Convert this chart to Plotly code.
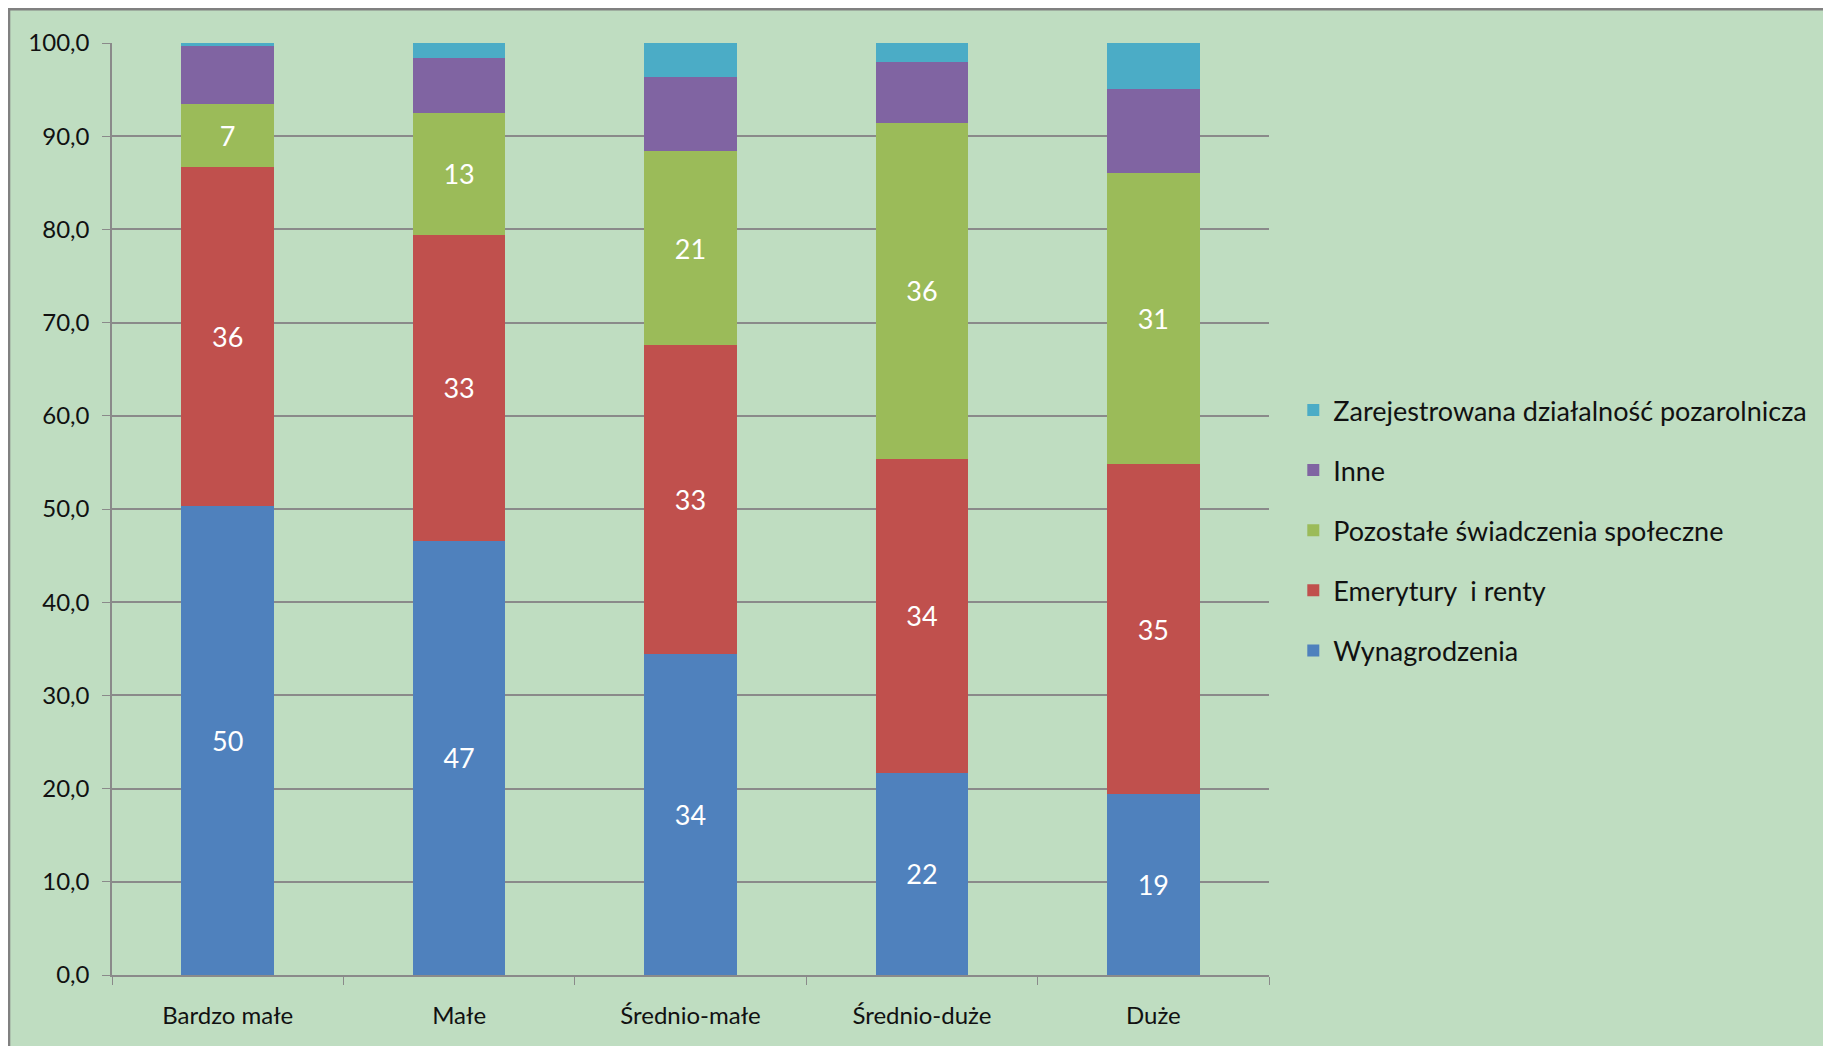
"""Stacked 100% bar chart: income sources by farm size group."""

import plotly.graph_objects as go

# Category labels (farm size groups)
categories = ["Bardzo małe", "Małe", "Średnio-małe", "Średnio-duże", "Duże"]

# Series values (share in %)
wynagrodzenia = [50.3, 46.6, 34.4, 21.7, 19.4]
emerytury = [36.4, 32.8, 33.2, 33.7, 35.4]
pozostale = [6.8, 13.1, 20.8, 36.0, 31.2]
inne = [6.2, 5.9, 8.0, 6.6, 9.1]
dzialalnosc = [0.3, 1.6, 3.6, 2.0, 4.9]

y_ticks = [0, 10, 20, 30, 40, 50, 60, 70, 80, 90, 100]

FONT = "Lato, 'Open Sans', sans-serif"
TEXT = "#111111"
GRID = "#8a8a8a"
PLOT_BG = "#BFDDC1"
OUTER_BG = "#E2EFE2"

series = [
    ("Wynagrodzenia", wynagrodzenia, "#4F81BD", True),
    ("Emerytury  i renty", emerytury, "#C0504D", True),
    ("Pozostałe świadczenia społeczne", pozostale, "#9BBB59", True),
    ("Inne", inne, "#8064A2", False),
    ("Zarejestrowana działalność pozarolnicza", dzialalnosc, "#4BACC6", False),
]

fig = go.Figure()
for i, (name, values, color, labelled) in enumerate(series):
    fig.add_trace(
        go.Bar(
            x=categories,
            y=values,
            name=name,
            legendgroup=name,
            legendrank=len(series) - i,  # top of stack listed first
            marker={"color": color, "line": {"width": 0}},
            width=0.4,
            text=[f"{v:.0f}" for v in values] if labelled else None,
            textposition="inside" if labelled else "none",
            insidetextanchor="middle",
            textangle=0,
            textfont={"color": "white", "size": 27, "family": FONT},
        )
    )

# outer frame: light strip above/left, gray border line
fig.add_shape(
    type="rect",
    xref="paper",
    yref="paper",
    x0=-0.0892,
    x1=2.0,
    y0=-0.5,
    y1=1.0365,
    line={"color": "#808080", "width": 3},
    fillcolor=PLOT_BG,
    layer="below",
)

# the page body adds an 8px offset, so margins are trimmed by that amount
fig.update_layout(
    barmode="stack",
    width=1831,
    height=1046,
    margin={"l": 104, "r": 570, "t": 35, "b": 79},
    paper_bgcolor=OUTER_BG,
    plot_bgcolor="rgba(0,0,0,0)",
    separators=", ",
    font={"family": FONT, "color": TEXT, "size": 24},
    showlegend=True,
    legend={
        "x": 1.021,
        "y": 0.477,
        "xanchor": "left",
        "yanchor": "middle",
        "traceorder": "grouped",
        "tracegroupgap": 22,
        "font": {"size": 27, "family": FONT, "color": TEXT},
        "bgcolor": "rgba(0,0,0,0)",
        "itemwidth": 30,
    },
    uniformtext={"minsize": 10, "mode": "show"},
)

fig.update_yaxes(
    range=[0, 100],
    tickvals=y_ticks,
    tickformat=".1f",
    showgrid=True,
    gridcolor=GRID,
    gridwidth=1.5,
    showline=True,
    linecolor=GRID,
    linewidth=1.5,
    ticks="outside",
    ticklen=8,
    tickcolor=GRID,
    tickfont={"size": 24, "color": TEXT},
    ticklabelstandoff=8,
    zeroline=False,
)

fig.update_xaxes(
    showline=True,
    linecolor=GRID,
    linewidth=2,
    ticks="outside",
    tickson="boundaries",
    ticklen=8,
    tickcolor=GRID,
    tickfont={"size": 24, "color": TEXT},
    ticklabelstandoff=18,
    showgrid=False,
)

fig.write_html("out.html")
